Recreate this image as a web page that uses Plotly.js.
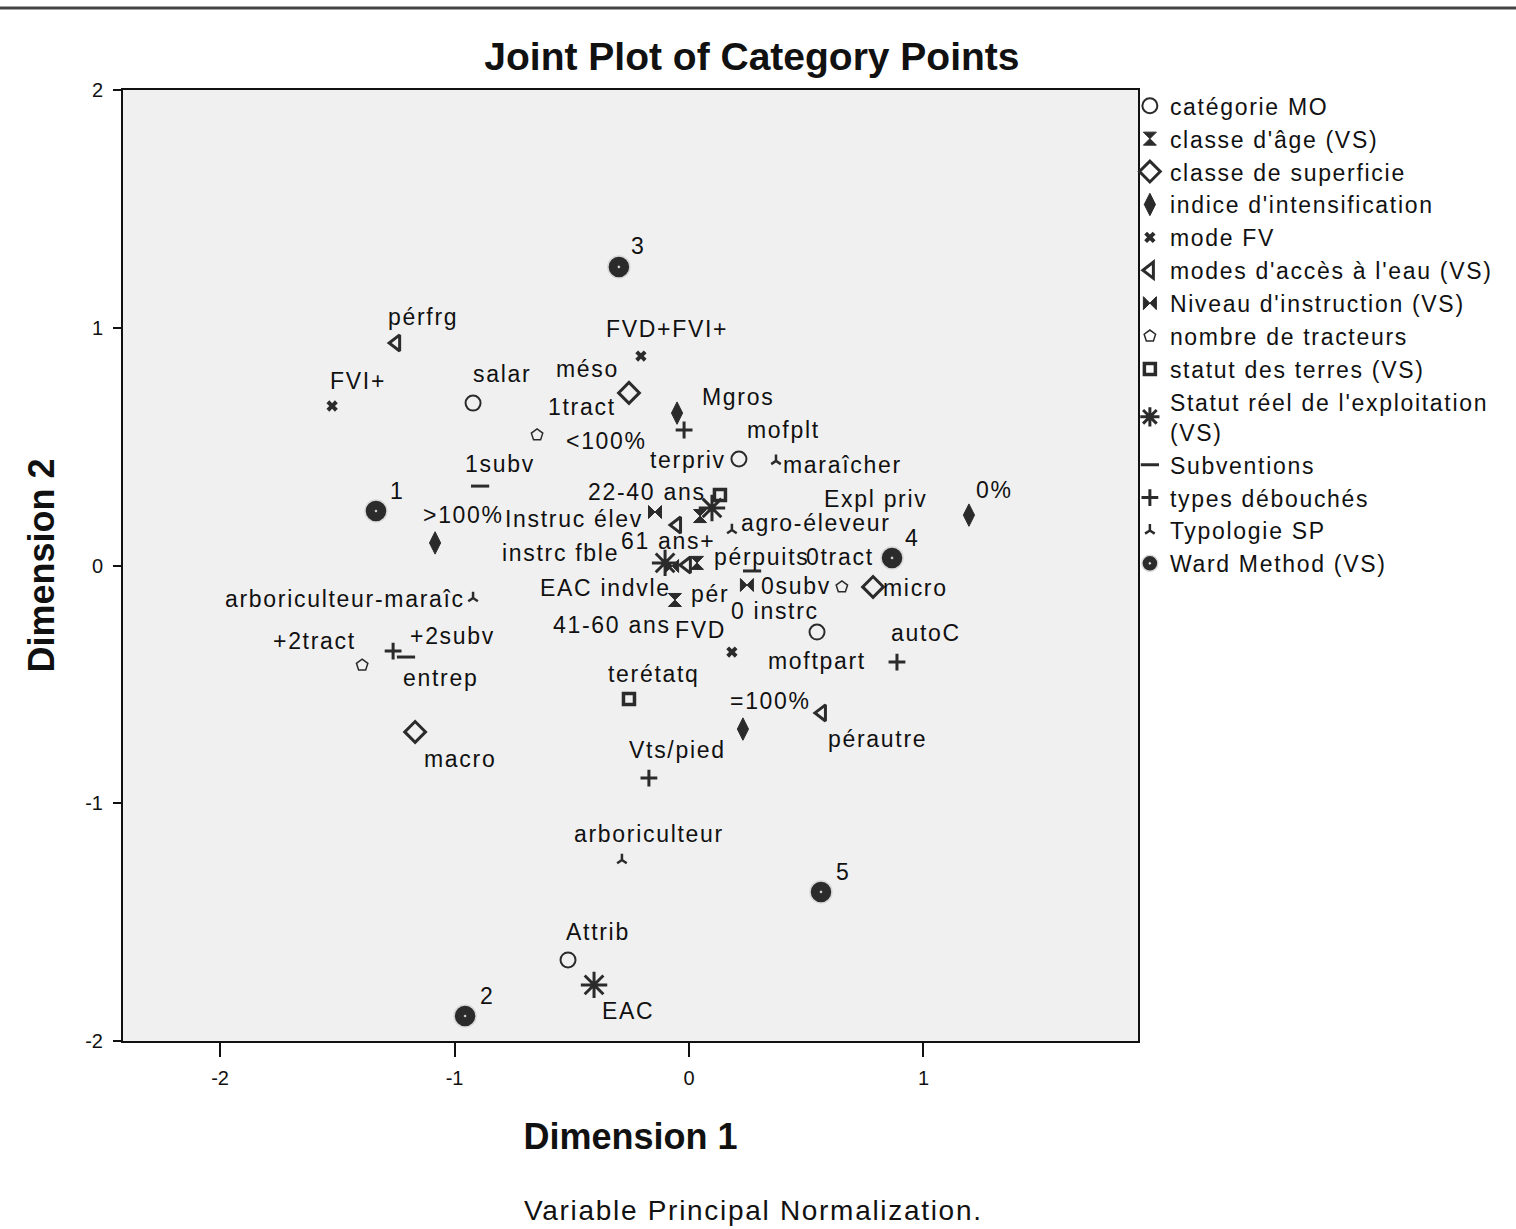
<!DOCTYPE html>
<html><head><meta charset="utf-8">
<script src="https://cdn.plot.ly/plotly-3.0.1.min.js"></script>
<style>
body{margin:0;background:#fff}#chart{width:1516px;height:1229px}
.legendtext, .annotation-text{letter-spacing:1.7px}
</style>
</head><body><div id="chart"></div>
<script>
// ---- Data ----
const catMOLabels = ['salar','mofplt','moftpart','Attrib'];
const catMOX = [-0.921, 0.213, 0.546, -0.516];
const catMOY = [0.683, 0.448, -0.280, -1.659];

const ageLabels = ['22-40 ans','61 ans+','41-60 ans'];
const ageX = [0.047, 0.034, -0.060];
const ageY = [0.208, 0.011, -0.145];

const supLabels = ['méso','micro','macro'];
const supX = [-0.256, 0.785, -1.168];
const supY = [0.726, -0.090, -0.700];

const intLabels = ['<100%','>100%','0%','=100%'];
const intX = [-0.051, -1.083, 1.194, 0.230];
const intY = [0.641, 0.095, 0.212, -0.688];

const fvLabels = ['FVI+','FVD+FVI+','FVD'];
const fvX = [-1.522, -0.205, 0.183];
const fvY = [0.671, 0.881, -0.364];

const eauLabels = ['pérfrg','pérpuits','pér','pérautre'];
const eauX = [-1.249, -0.051, -0.009, 0.567];
const eauY = [0.936, 0.170, 0.002, -0.620];

const instLabels = ['Instruc élev','instrc fble','0 instrc'];
const instX = [-0.145, -0.072, 0.247];
const instY = [0.225, -0.002, -0.082];

const tracLabels = ['1tract','0tract','+2tract'];
const tracX = [-0.648, 0.652, -1.394];
const tracY = [0.549, -0.090, -0.419];

const terLabels = ['terpriv','terétatq'];
const terX = [0.132, -0.256];
const terY = [0.297, -0.562];

const statLabels = ['Expl priv','EAC indvle','EAC'];
const statX = [0.098, -0.102, -0.405];
const statY = [0.242, 0.011, -1.764];

const subLabels = ['1subv','0subv','+2subv'];
const subX = [-0.891, 0.269, -1.207];
const subY = [0.334, -0.023, -0.385];

const debLabels = ['Mgros','autoC','Vts/pied','entrep'];
const debX = [-0.021, 0.887, -0.171, -1.262];
const debY = [0.570, -0.406, -0.894, -0.360];

const typLabels = ['maraîcher','agro-éleveur','arboriculteur-maraîc','arboriculteur'];
const typX = [0.371, 0.183, -0.921, -0.286];
const typY = [0.440, 0.149, -0.137, -1.239];

const wardLabels = ['1','2','3','4','5'];
const wardX = [-1.335, -0.955, -0.299, 0.866, 0.563];
const wardY = [0.229, -1.895, 1.256, 0.032, -1.373];

const xTicks = [-2, -1, 0, 1];
const yTicks = [-2, -1, 0, 1, 2];

// ---- Label placement (pixel offsets from the point: right, down) ----
const labelOffsets = {
  '1':[22,-20],'2':[22,-20],'3':[20,-21],'4':[20,-20],'5':[22,-20],
  'salar':[29,-29],'mofplt':[45,-29],'moftpart':[0,29],'Attrib':[30,-28],
  '22-40 ans':[-53,-24],'61 ans+':[-29,-22],'41-60 ans':[-63,25],
  'méso':[-41,-24],'micro':[42,1],'macro':[45,27],
  '<100%':[-71,28],'>100%':[28,-28],'0%':[26,-25],'=100%':[28,-28],
  'FVI+':[26,-25],'FVD+FVI+':[26,-27],'FVD':[-31,-22],
  'pérfrg':[27,-26],'pérpuits':[84,32],'pér':[23,29],'pérautre':[56,26],
  'Instruc élev':[-81,7],'instrc fble':[-112,-13],'0 instrc':[28,26],
  '1tract':[45,-28],'0tract':[-2,-30],'+2tract':[-48,-24],
  'terpriv':[-32,-35],'terétatq':[25,-25],
  'Expl priv':[164,-9],'EAC indvle':[-60,25],'EAC':[34,26],
  '1subv':[20,-22],'0subv':[44,15],'+2subv':[46,-21],
  'Mgros':[54,-33],'autoC':[29,-29],'Vts/pied':[29,-28],'entrep':[47,27],
  'maraîcher':[67,4],'agro-éleveur':[84,-7],'arboriculteur-maraîc':[-128,1],'arboriculteur':[27,-26]
};

const C = '#2b2b2b';
const FONT = 'Liberation Sans, Arial, sans-serif';
const series = [
  {name:'catégorie MO', x:catMOX, y:catMOY, t:catMOLabels, m:{symbol:'circle-open', size:15, color:C, line:{color:C,width:2}}},
  {name:"classe d'âge (VS)", x:ageX, y:ageY, t:ageLabels, m:{symbol:'hourglass', size:13, color:C, line:{color:C,width:1}}},
  {name:'classe de superficie', x:supX, y:supY, t:supLabels, m:{symbol:'diamond-open', size:16, color:C, line:{color:C,width:3}}},
  {name:"indice d'intensification", x:intX, y:intY, t:intLabels, m:{symbol:'diamond-tall', size:16, color:C, line:{color:C,width:1}}},
  {name:'mode FV', x:fvX, y:fvY, t:fvLabels, m:{symbol:'x', size:10, color:C, line:{color:C,width:0}}},
  {name:"modes d'accès à l'eau (VS)", x:eauX, y:eauY, t:eauLabels, m:{symbol:'triangle-left-open', size:14, color:C, line:{color:C,width:3}}},
  {name:"Niveau d'instruction (VS)", x:instX, y:instY, t:instLabels, m:{symbol:'bowtie', size:13, color:C, line:{color:C,width:1}}},
  {name:'nombre de tracteurs', x:tracX, y:tracY, t:tracLabels, m:{symbol:'pentagon-open', size:12, color:C, line:{color:C,width:1.5}}},
  {name:'statut des terres (VS)', x:terX, y:terY, t:terLabels, m:{symbol:'square-open', size:11, color:C, line:{color:C,width:3.5}}},
  {name:"Statut réel de l'exploitation<br>(VS)", x:statX, y:statY, t:statLabels, m:{symbol:'asterisk-open', size:22, color:C, line:{color:C,width:3}}},
  {name:'Subventions', x:subX, y:subY, t:subLabels, m:{symbol:'line-ew-open', size:13, color:C, line:{color:C,width:3}}},
  {name:'types débouchés', x:debX, y:debY, t:debLabels, m:{symbol:'cross-thin-open', size:12, color:C, line:{color:C,width:3}}},
  {name:'Typologie SP', x:typX, y:typY, t:typLabels, m:{symbol:'y-up-open', size:8, color:C, line:{color:C,width:2.5}}},
  {name:'Ward Method (VS)', x:wardX, y:wardY, t:wardLabels, m:{symbol:'circle-dot', size:22, color:C, line:{color:'#d8d8d8',width:1.5}}}
];

const traces = series.map(s => ({
  type:'scatter', mode:'markers', name:s.name, x:s.x, y:s.y, text:s.t,
  marker:s.m, hoverinfo:'text+x+y'
}));

const annotations = [];
series.forEach(s => {
  s.t.forEach((lab, i) => {
    const off = labelOffsets[lab] || [20,-20];
    annotations.push({x:s.x[i], y:s.y[i], xref:'x', yref:'y', text:lab, showarrow:false,
      xanchor:'center', yanchor:'middle', xshift:off[0], yshift:-off[1],
      font:{family:FONT, size:23, color:'#111'}});
  });
});

const layout = {
  width:1516, height:1229,
  margin:{l:123, r:378, t:90, b:188},
  paper_bgcolor:'#ffffff', plot_bgcolor:'#f0f0f0',
  font:{family:FONT, color:'#111'},
  title:{text:'<b>Joint Plot of Category Points</b>', x:0.496, xanchor:'center', y:0.954, yanchor:'middle',
    font:{family:FONT, size:39, color:'#111'}},
  xaxis:{range:[-2.414, 1.915], tickvals:xTicks, ticktext:xTicks.map(String), showgrid:false, zeroline:false,
    showline:true, mirror:true, linecolor:'#111', linewidth:2, ticks:'outside', ticklen:14, tickcolor:'#111', tickwidth:2,
    ticklabelstandoff:4, tickfont:{size:20}, title:{text:'<b>Dimension 1</b>', font:{size:36}, standoff:36}},
  yaxis:{range:[-2, 2], tickvals:yTicks, ticktext:yTicks.map(String), showgrid:false, zeroline:false,
    showline:true, mirror:true, linecolor:'#111', linewidth:2, ticks:'outside', ticklen:8, tickcolor:'#111', tickwidth:2,
    ticklabelstandoff:6, tickfont:{size:20}, title:{text:'<b>Dimension 2</b>', font:{size:36}, standoff:20}},
  showlegend:true,
  legend:{x:0.992, xanchor:'left', y:1.006, yanchor:'top', bgcolor:'rgba(0,0,0,0)',
    font:{family:FONT, size:23, color:'#111'}, tracegroupgap:0, itemsizing:'trace'},
  annotations:annotations.concat([{xref:'paper', yref:'paper', x:0.6207, y:-0.1785, xanchor:'center', yanchor:'middle',
    text:'Variable Principal Normalization.', showarrow:false,
    font:{family:FONT, size:28, color:'#111'}}]),
  shapes:[{type:'line', xref:'paper', yref:'paper', x0:-0.122, x1:1.373, y0:1.0862, y1:1.0862,
    line:{color:'#444', width:3}}]
};

Plotly.newPlot('chart', traces, layout, {staticPlot:true});
</script>
</body></html>
